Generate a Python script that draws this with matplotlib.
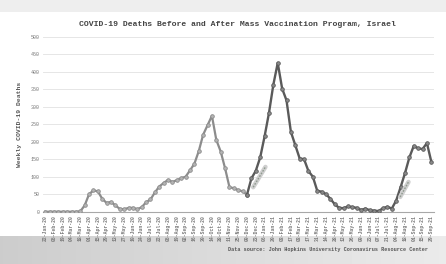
import numpy as np
import pandas as pd
import matplotlib
matplotlib.use("Agg")
import matplotlib.pyplot as plt

# ---- data ----
start_date = "2020-01-22"
weekly_deaths = [0, 0, 0, 0, 0, 0, 0, 0, 1, 18,
                 50, 61, 58, 37, 25, 28, 18, 8, 7, 11,
                 11, 7, 13, 27, 35, 55, 72, 82, 91, 85,
                 90, 96, 100, 118, 137, 173, 220, 247, 274, 205,
                 172, 124, 70, 67, 62, 58, 49,
                 95, 117, 155, 215, 282, 363, 425, 352, 318,
                 228, 190, 152, 150, 116, 100, 60, 57, 50, 37,
                 21, 11, 10, 15, 13, 11, 5, 9, 4, 3,
                 2, 10, 14, 9, 32, 70, 110, 155, 188, 181,
                 179, 196, 143]
split_index = 46          # vaccination program start (last "before" point)
arrow1 = ([47.4, 50.2], [70, 128])
arrow2 = ([80.9, 82.8], [42, 85])
yticks = [0, 50, 100, 150, 200, 250, 300, 350, 400, 450, 500]

dates = pd.date_range(start_date, periods=len(weekly_deaths), freq="7D")
labels = [d.strftime("%d-%b-%y") for d in dates]
x = np.arange(len(weekly_deaths))
y = np.array(weekly_deaths, dtype=float)

W, H = 446, 264
fig = plt.figure(figsize=(W / 100, H / 100), dpi=100)
fig.patch.set_facecolor("white")

# photo-like grey bands (top strip and bottom gradient)
bg = fig.add_axes([0, 0, 1, 1], zorder=-10)
bg.set_axis_off()
grad = np.ones((264, 446))
yy = np.arange(264)[:, None]
xx = np.arange(446)[None, :]
grad = np.where(yy < 12, 0.93, grad)
bottom = (yy >= 236)
grad = np.where(bottom, 0.80 + 0.12 * (xx / 446.0) + 0.02 * ((yy - 236) / 28.0) * 0, grad)
bg.imshow(grad, cmap="gray", vmin=0, vmax=1, aspect="auto",
          extent=[0, 1, 0, 1], interpolation="bilinear")
bg.set_xlim(0, 1)
bg.set_ylim(0, 1)

ax = fig.add_axes([43 / W, 1 - 211.7 / H, (433.5 - 43) / W, (211.7 - 36.7) / H])
ax.set_facecolor("none")

mono = "Liberation Mono"

ax.plot(x[:split_index + 1], y[:split_index + 1], color="#8c8c8c", lw=1.6,
        marker="o", ms=2.6, mfc="#b5b5b5", mec="#8c8c8c", mew=0.6, zorder=3)
ax.plot(x[split_index:], y[split_index:], color="#5a5a5a", lw=1.7,
        marker="o", ms=2.6, mfc="#8a8a8a", mec="#5a5a5a", mew=0.6, zorder=4)

for ax_x, ax_y in (arrow1, arrow2):
    ax.plot(ax_x, ax_y, color="#cfcfcf", lw=3.2, solid_capstyle="round", zorder=5)
    ax.plot(ax_x, ax_y, color="#8f9a8f", lw=1.0, ls=(0, (1.2, 1.0)), zorder=6)

ax.set_xlim(-0.5, len(weekly_deaths) - 0.5)
ax.set_ylim(0, 500)
ax.set_yticks(yticks)
ax.set_yticklabels([str(t) for t in yticks], fontsize=3.6, color="#777777",
                   family=mono)
ax.set_xticks(x[::2])
ax.set_xticklabels(labels[::2], rotation=90, fontsize=3.4, color="#777777",
                   family=mono, fontweight="bold")
ax.tick_params(axis="both", length=0, pad=2.5)
ax.grid(axis="y", color="#e6e6e6", lw=0.7)
ax.set_axisbelow(True)
for s in ("top", "right", "left"):
    ax.spines[s].set_visible(False)
ax.spines["bottom"].set_color("#a8a8a8")
ax.spines["bottom"].set_linewidth(0.8)

ax.set_ylabel("Weekly COVID-19 Deaths", fontsize=4.6, family=mono,
              fontweight="bold", color="#555555", labelpad=6)

fig.text(237 / W, 1 - 25 / H,
         "COVID-19 Deaths Before and After Mass Vaccination Program, Israel",
         ha="center", va="center", fontsize=5.9, family=mono,
         fontweight="bold", color="#444444")
fig.text(428 / W, 1 - 249 / H,
         "Data source: John Hopkins University Coronavirus Resource Center",
         ha="right", va="center", fontsize=3.7, family=mono,
         fontweight="bold", color="#555555")

fig.savefig("out.png", dpi=100)
